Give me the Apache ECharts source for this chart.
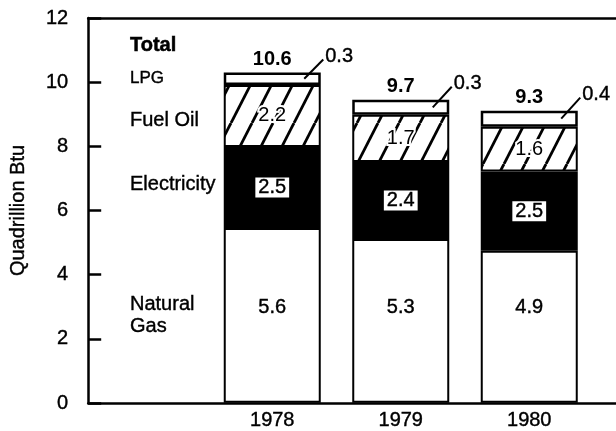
<!DOCTYPE html>
<html>
<head>
<meta charset="utf-8">
<script src="https://cdn.jsdelivr.net/npm/echarts@6/dist/echarts.min.js"></script>
<style>
html,body{margin:0;padding:0;background:#fff;}
#chart{width:616px;height:431px;}
</style>
</head>
<body>
<div id="chart"></div>
<script>
// ---- data ----
const categories = ['1978', '1979', '1980'];
// drawn segment heights (Quadrillion Btu)
const naturalGas  = [5.45, 5.11, 4.74];
const electricity = [2.53, 2.40, 2.47];
const fuelOil     = [1.93, 1.47, 1.40];
const lpg         = [0.39, 0.47, 0.50];
// printed values
const naturalGasLabels  = ['5.6', '5.3', '4.9'];
const electricityLabels = ['2.5', '2.4', '2.5'];
const fuelOilLabels     = ['2.2', '1.7', '1.6'];
const lpgLabels         = ['0.3', '0.3', '0.4'];
const totalLabels       = ['10.6', '9.7', '9.3'];
const yMin = 0, yMax = 12, yStep = 2;
const yName = 'Quadrillion Btu';
const sideLabels = ['Total', 'LPG', 'Fuel Oil', 'Electricity', 'Natural\nGas'];

const FONT = '"Liberation Sans", Arial, Helvetica, sans-serif';
const SW = 0.4;
const HEAVY = {textBorderColor: '#000', textBorderWidth: SW};

// hatch pattern for fuel oil
function makeHatch() {
  const w = 21, h = 41;
  const c = document.createElement('canvas');
  c.width = w; c.height = h;
  const g = c.getContext('2d');
  g.fillStyle = '#fff';
  g.fillRect(0, 0, w, h);
  g.strokeStyle = '#000';
  g.lineWidth = 2.8;
  for (let k = -1; k <= 1; k++) {
    g.beginPath();
    g.moveTo(k * w, h);
    g.lineTo(k * w + w, 0);
    g.stroke();
  }
  return c;
}

const leaderData = categories.map((c, i) => [
  i,
  naturalGas[i] + electricity[i] + fuelOil[i],
  naturalGas[i] + electricity[i] + fuelOil[i] + lpg[i]
]);

const chart = echarts.init(document.getElementById('chart'), null, {renderer: 'canvas'});

const option = {
  backgroundColor: '#fff',
  animation: false,
  textStyle: {fontFamily: FONT, color: '#000'},
  grid: [
    {left: 88, top: 18, bottom: 28, right: -10},
    {left: 208, top: 18, bottom: 28, width: 385.5}
  ],
  xAxis: [
    {gridIndex: 0, type: 'value', min: 0, max: 1, position: 'bottom',
     axisLine: {show: true, onZero: false, lineStyle: {color: '#000', width: 2.5}},
     axisTick: {show: false}, axisLabel: {show: false}, splitLine: {show: false}},
    {gridIndex: 0, type: 'value', min: 0, max: 1, position: 'top',
     axisLine: {show: true, onZero: false, lineStyle: {color: '#000', width: 2.5}},
     axisTick: {show: false}, axisLabel: {show: false}, splitLine: {show: false}},
    {gridIndex: 1, type: 'category', data: categories, position: 'bottom',
     axisLine: {show: false}, axisTick: {show: false},
     axisLabel: Object.assign({show: true, color: '#000', fontSize: 20, fontFamily: FONT, margin: 8}, HEAVY),
     splitLine: {show: false}}
  ],
  yAxis: [
    {gridIndex: 0, type: 'value', min: yMin, max: yMax, interval: yStep,
     name: yName, nameLocation: 'middle', nameGap: 60, nameRotate: 90,
     nameTextStyle: Object.assign({color: '#000', fontSize: 20, fontFamily: FONT}, HEAVY),
     axisLine: {show: true, onZero: false, lineStyle: {color: '#000', width: 2.5}},
     axisTick: {show: true, inside: true, length: 13, lineStyle: {color: '#000', width: 2.5}},
     axisLabel: Object.assign({color: '#000', fontSize: 20, fontFamily: FONT, margin: 20}, HEAVY),
     splitLine: {show: false}},
    {gridIndex: 1, type: 'value', min: yMin, max: yMax, show: false}
  ],
  series: [
    {name: 'Natural Gas', type: 'bar', stack: 'total', xAxisIndex: 2, yAxisIndex: 1,
     barWidth: 97, data: naturalGas,
     itemStyle: {color: '#fff', borderColor: '#000', borderWidth: 2},
     label: Object.assign({show: true, position: 'insideBottom', distance: 85, color: '#000',
             fontSize: 20, fontFamily: FONT, lineHeight: 20,
             formatter: p => naturalGasLabels[p.dataIndex]}, HEAVY)},
    {name: 'Electricity', type: 'bar', stack: 'total', xAxisIndex: 2, yAxisIndex: 1,
     barWidth: 97, data: electricity,
     itemStyle: {color: '#000', borderColor: '#000', borderWidth: 2},
     label: Object.assign({show: true, position: 'inside', color: '#000', backgroundColor: '#fff',
             padding: [1, 3, 0, 3], fontSize: 20, fontFamily: FONT, lineHeight: 19,
             formatter: p => electricityLabels[p.dataIndex]}, HEAVY)},
    {name: 'Fuel Oil', type: 'bar', stack: 'total', xAxisIndex: 2, yAxisIndex: 1,
     barWidth: 97, data: fuelOil,
     itemStyle: {color: {image: makeHatch(), repeat: 'repeat'}, borderColor: '#000', borderWidth: 2},
     label: {show: true, position: 'inside', color: '#000', textBorderColor: '#fff',
             textBorderWidth: 4, fontSize: 20, fontFamily: FONT,
             formatter: p => fuelOilLabels[p.dataIndex]}},
    {name: 'LPG', type: 'bar', stack: 'total', xAxisIndex: 2, yAxisIndex: 1,
     barWidth: 97, data: lpg,
     itemStyle: {color: '#fff', borderColor: '#000', borderWidth: 2.5},
     label: {show: true, position: 'top', distance: 3, color: '#000', fontWeight: 'bold',
             fontSize: 20, fontFamily: FONT,
             formatter: p => totalLabels[p.dataIndex]}},
    {name: 'LPG value', type: 'custom', xAxisIndex: 2, yAxisIndex: 1, data: leaderData,
     z: 10, silent: true,
     renderItem: function (params, api) {
       const i = api.value(0);
       const pBase = api.coord([i, api.value(1)]);
       const pTop = api.coord([i, api.value(2)]);
       const cx = pTop[0];
       const midY = (pBase[1] + pTop[1]) / 2;
       return {
         type: 'group',
         children: [
           {type: 'line', shape: {x1: cx + 32, y1: midY, x2: cx + 51, y2: pTop[1] - 13},
            style: {stroke: '#000', lineWidth: 2}},
           {type: 'text', x: cx + 53, y: pTop[1] - 16,
            style: {text: lpgLabels[i], fill: '#000', fontSize: 20, fontFamily: FONT,
                    align: 'left', verticalAlign: 'middle', stroke: '#000', lineWidth: SW}}
         ]
       };
     }}
  ],
  graphic: [
    {type: 'text', x: 130, y: 45, style: {text: sideLabels[0], fill: '#000', fontSize: 20, fontWeight: 'bold', fontFamily: FONT, verticalAlign: 'middle', stroke: '#000', lineWidth: 0.5}},
    {type: 'text', x: 130, y: 78, style: {text: sideLabels[1], fill: '#000', fontSize: 17, fontFamily: FONT, verticalAlign: 'middle', stroke: '#000', lineWidth: SW}},
    {type: 'text', x: 130, y: 120, style: {text: sideLabels[2], fill: '#000', fontSize: 20, fontFamily: FONT, verticalAlign: 'middle', stroke: '#000', lineWidth: SW}},
    {type: 'text', x: 130, y: 184, style: {text: sideLabels[3], fill: '#000', fontSize: 20, fontFamily: FONT, verticalAlign: 'middle', stroke: '#000', lineWidth: SW}},
    {type: 'text', x: 130, y: 315, style: {text: sideLabels[4], fill: '#000', fontSize: 20, lineHeight: 22, fontFamily: FONT, verticalAlign: 'middle', stroke: '#000', lineWidth: SW}}
  ]
};
chart.setOption(option);
</script>
</body>
</html>
